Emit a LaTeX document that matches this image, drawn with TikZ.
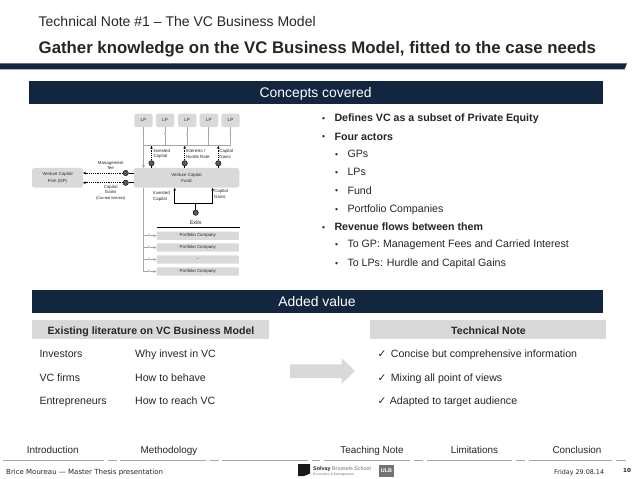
\documentclass[tikz,border=0pt]{standalone}
\usepackage{fontspec}
\setmainfont{Liberation Sans}
\newfontfamily\dejavu{DejaVu Sans}
\usetikzlibrary{arrows.meta,shapes.arrows,calc}
\definecolor{navy}{HTML}{12263F}
\definecolor{boxgray}{HTML}{D9D9D9}
\definecolor{linegray}{HTML}{A6A6A6}
\definecolor{txt}{HTML}{262626}
\newcommand\fsz[2]{\fontsize{#1}{#2}\selectfont}
\tikzset{
  banner/.style={fill=navy,inner sep=0pt},
  bannertext/.style={anchor=base,text=white,inner sep=0pt,font=\fsz{13.9}{16}},
  tl/.style={anchor=base west,inner sep=0pt,text=txt},
  bullet/.style={tl,font=\fsz{10.65}{12}},
  bbullet/.style={tl,font=\fsz{10.65}{12}\bfseries},
  row/.style={tl,font=\fsz{10.6}{12}},
  tabhead/.style={fill=boxgray,inner sep=0pt,minimum height=19pt},
  headtext/.style={anchor=base,inner sep=0pt,text=txt,font=\fsz{10.6}{12}\bfseries},
  navlabel/.style={anchor=base,inner sep=0pt,text=txt,font=\fsz{9.9}{11}},
  navline/.style={draw=linegray,line width=.7pt},
  lpbox/.style={fill=boxgray,rounded corners=1.5pt,inner sep=0pt,minimum width=18.4pt,minimum height=13.4pt,text=txt,font=\fsz{4.5}{5}},
  bigbox/.style={fill=boxgray,rounded corners=2.5pt,inner sep=0pt,minimum height=19.7pt,text=txt,align=center,font=\fsz{4.4}{6.2}},
  pfbox/.style={fill=boxgray,rounded corners=1pt,inner sep=0pt,minimum width=82.3pt,minimum height=8.3pt,text=txt,font=\fsz{4.4}{5}},
  small/.style={inner sep=0pt,text=txt,align=left,font=\fsz{4.4}{5.6}},
  dot/.style={circle,fill=black!65,draw=black,line width=.4pt,minimum size=5.4pt,inner sep=0pt},
  eur/.style={inner sep=.3pt,fill=white,text=black!70,font=\fsz{3.2}{4}},
  glink/.style={draw=linegray,line width=.7pt},
  garrow/.style={glink,-{Stealth[length=3pt,width=3pt]}},
  karrow/.style={draw=black,line width=.65pt,dash pattern=on 1.3pt off .9pt,-{Stealth[length=2.8pt,width=2.6pt]}},
  ksolid/.style={draw=black,line width=.65pt},
  ksolidarrow/.style={ksolid,-{Stealth[length=2.8pt,width=2.6pt]}},
}
\begin{document}
\begin{tikzpicture}[x=1pt,y=-1pt]
\useasboundingbox (0,0) rectangle (638,479);
\fill[white] (0,0) rectangle (638,479);
% header
\node[tl,font=\fsz{14}{16}] (sup) at (38.5,27) {Technical Note \#1 – The VC Business Model};
\node[tl,font=\fsz{16.8}{19}\bfseries] (ttl) at (38.5,53) {Gather knowledge on the VC Business Model, fitted to the case needs};
\fill[navy] (0,63.3) -- (627,63.3) -- (624.5,69.3) -- (0,69.3) -- cycle;
% concepts banner
\node[banner,minimum width=574pt,minimum height=23.6pt] (bc) at (316,92.5) {};
\node[bannertext] (bct) at (315.7,97.7) {Concepts covered};
% LP boxes
\node[lpbox] (lp1) at (143.5,120.3) {LP};
\node[lpbox] (lp2) at (165.2,120.3) {LP};
\node[lpbox] (lp3) at (187.2,120.3) {LP};
\node[lpbox] (lp4) at (208.8,120.3) {LP};
\node[lpbox] (lp5) at (230.5,120.3) {LP};
\node[bigbox,minimum width=105.6pt] (fund) at (186.5,177.8) {Venture Capital\\Fund};
\node[bigbox,minimum width=51pt] (gp) at (57.5,177.8) {Venture Capital\\Firm (GP)};
\foreach \i/\x in {1/143.5,2/165.2,3/187.2,4/208.8,5/230.5}{
  \coordinate (j\i) at (\x,145.7);
  \draw[glink] (lp\i.south) -- (j\i);
  \node[eur] at (\x,134) {€};
}
\draw[glink] (j1) -- (j5);
\coordinate (fundin) at (143.5,168);
\draw[garrow] (j1) -- (fundin);
% up arrows
\foreach \n/\x in {a/151.5,b/184.7,c/218.3}{
  \node[dot] (d\n) at (\x,163.3) {};
  \coordinate (u\n) at (\x,145.9);
  \coordinate (f\n) at (\x,168);
  \draw[ksolid] (f\n) -- (d\n);
  \draw[karrow] (d\n) -- (u\n);
}
\node[small,anchor=west] (l1) at (153.3,154) {Invested\\Capital};
\node[small,anchor=west] (l2) at (185.8,154) {Interests /\\Hurdle Rate};
\node[small,anchor=west] (l3) at (219.2,154) {Capital\\Gains};
% GP flows
\node[dot] (dm) at (125.7,173) {};
\node[dot] (dg) at (125.7,182.8) {};
\coordinate (fm) at (133.7,173);
\coordinate (fg) at (133.7,182.8);
\coordinate (gm) at (83,173);
\coordinate (gg) at (83,182.8);
\draw[ksolid,dash pattern=on 1.3pt off .9pt] (fm) -- (dm);
\draw[ksolid,dash pattern=on 1.3pt off .9pt] (fg) -- (dg);
\draw[karrow] (dm) -- (gm);
\draw[karrow] (dg) -- (gg);
\node[small,align=center] (lm) at (110.7,165.6) {Management\\fee};
\node[small,align=center,anchor=north] (lg) at (110.7,184.8) {Capital\\Gains\\{\fsz{3.9}{5.6}(Carried interest)}};
% exits
\node[dot] (dx) at (195.7,212.7) {};
\coordinate (bj) at (195.7,203.7);
\coordinate (bl) at (174.7,203.7);
\coordinate (br) at (212.7,203.7);
\coordinate (bla) at (174.7,187.9);
\coordinate (bra) at (212.7,187.9);
\draw[ksolid] (dx) -- (bj);
\draw[ksolidarrow] (bj) -- (bl) -- (bla);
\draw[ksolidarrow] (bj) -- (br) -- (bra);
\node[small,anchor=west] (l4) at (153,196.3) {Invested\\Capital};
\node[small,anchor=west] (l5) at (214,194) {Capital\\Gains};
\node[inner sep=0pt,text=txt,font=\fsz{5.4}{6}] (ex) at (195.7,223) {Exits};
\coordinate (ra) at (156.7,227.3);
\coordinate (rb) at (239.5,227.3);
\draw[black,line width=.7pt] (ra) -- (rb);
% portfolio
\node[pfbox] (p1) at (197.8,235.7) {Portfolio Company};
\node[pfbox] (p2) at (197.8,247.5) {Portfolio Company};
\node[pfbox] (p3) at (197.8,259.5) {...};
\node[pfbox] (p4) at (197.8,271.5) {Portfolio Company};
\coordinate (fb) at (143.5,187.7);
\coordinate (tr) at (143.5,271.5);
\draw[glink] (fb) -- (tr);
\foreach \i in {1,2,3,4}{
  \coordinate (s\i) at (fb |- p\i.west);
  \draw[garrow] (s\i) -- (p\i.west);
  \node[eur] at ($(s\i)+(5.5,0)$) {€};
}
% bullets
\foreach \n/\x/\y/\t/\s in {
  a/334.3/121.7/Defines VC as a subset of Private Equity/bbullet,
  b/334.3/140/Four actors/bbullet,
  c/347.3/157.7/GPs/bullet,
  d/347.3/175.7/LPs/bullet,
  e/347.3/194/Fund/bullet,
  f/347.3/212.7/Portfolio Companies/bullet,
  g/334.3/230.7/Revenue flows between them/bbullet,
  h/347.3/247.7/To GP: Management Fees and Carried Interest/bullet,
  i/347.3/266.7/To LPs: Hurdle and Capital Gains/bullet}{
  \node[\s] (t\n) at (\x,\y) {\t};
  \node[anchor=base,inner sep=0pt,text=txt,font=\fsz{8.5}{10}] (bu\n) at (\x-10.8,\y-.6) {•};
}
% added value
\node[banner,minimum width=571pt,minimum height=22.8pt] (bv) at (317.5,301.4) {};
\node[bannertext] (bvt) at (317,306.7) {Added value};
\node[tabhead,minimum width=236.5pt] (hl) at (150.5,329.5) {};
\node[headtext] (hlt) at (151,334) {Existing literature on VC Business Model};
\node[tabhead,minimum width=236pt] (hr) at (488,329.5) {};
\node[headtext] (hrt) at (488.5,334) {Technical Note};
\node[row] (r1) at (39.3,357.3) {Investors};
\node[row] (r2) at (39.3,381) {VC firms};
\node[row] (r3) at (39.3,404) {Entrepreneurs};
\node[row] (q1) at (135,357.3) {Why invest in VC};
\node[row] (q2) at (135,381) {How to behave};
\node[row] (q3) at (135,404) {How to reach VC};
\node[tl,font=\dejavu\fsz{10.5}{12}] (k1) at (377.5,357.3) {✓};
\node[tl,font=\dejavu\fsz{10.5}{12}] (k2) at (377.5,381) {✓};
\node[tl,font=\dejavu\fsz{10.5}{12}] (k3) at (377.5,404) {✓};
\node[row] (c1) at (390.7,357.3) {Concise but comprehensive information};
\node[row] (c2) at (390.7,381) {Mixing all point of views};
\node[row] (c3) at (389.7,404) {Adapted to target audience};
\fill[boxgray] (290,364.3) -- (341.5,364.3) -- (341.5,358) -- (355,371) -- (341.5,384) -- (341.5,378) -- (290,378) -- cycle;
% nav
\node[navlabel] (n1) at (52.7,453.3) {Introduction};
\node[navlabel] (n2) at (169,453.3) {Methodology};
\node[navlabel] (n3) at (372,453.3) {Teaching Note};
\node[navlabel] (n4) at (474.5,453.3) {Limitations};
\node[navlabel] (n5) at (577,453.3) {Conclusion};
\foreach \a/\b in {3/104,108/116.7,120/206,210/219,222/308,312/320,324/410,414/423,427/512,516/525,529/612,616/626}{
  \draw[navline] (\a,460) -- (\b,460);
}
% footer
\node[tl,font=\dejavu\fsz{7}{8}] (fa) at (6,474.3) {Brice Moureau — Master Thesis presentation};
\node[tl,font=\dejavu\fsz{6.4}{8}] (fb2) at (554,474.3) {Friday 29.08.14};
\node[tl,font=\dejavu\fsz{5.6}{7}\bfseries] (fn) at (623,472.5) {10};
\fill[black!90] (298,464) -- (310,464) -- (310,473.5) -- (304,476) -- (298,476) -- cycle;
\node[tl,font=\fsz{5.4}{6}\bfseries] (sv) at (313,470) {Solvay \textcolor{black!55}{\mdseries Brussels School}};
\node[tl,font=\fsz{3.4}{4},text=black!55] (sv2) at (313,475) {Economics \& Management};
\node[fill=black!55,inner sep=0pt,minimum width=15pt,minimum height=12pt,text=white,font=\fsz{5.4}{6}\bfseries] (ulb) at (386.5,471) {ULB};
\end{tikzpicture}
\end{document}
